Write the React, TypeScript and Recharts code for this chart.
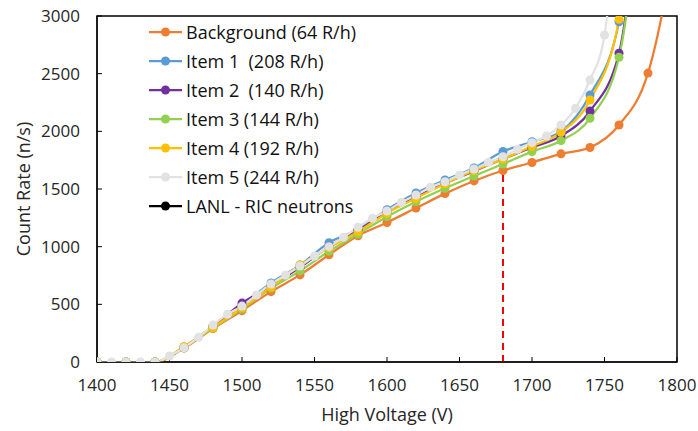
import React from 'react';
import { LineChart, Line, XAxis, YAxis, Legend, ReferenceLine, ReferenceArea } from 'recharts';

// Voltages (V) for each run
const voltsBackground = [1400, 1420, 1440, 1460, 1480, 1500, 1520, 1540, 1560, 1580, 1600, 1620, 1640, 1660, 1680, 1700, 1720, 1740, 1760, 1780, 1800];
const voltsItems = [1400, 1420, 1440, 1460, 1480, 1500, 1520, 1540, 1560, 1580, 1600, 1620, 1640, 1660, 1680, 1700, 1720, 1740, 1760, 1780];
const voltsItem5 = [1400, 1410, 1420, 1430, 1440, 1450, 1460, 1470, 1480, 1490, 1500, 1510, 1520, 1530, 1540, 1550, 1560, 1570, 1580, 1590, 1600, 1610, 1620, 1630, 1640, 1650, 1660, 1670, 1680, 1690, 1700, 1710, 1720, 1730, 1740, 1750, 1760];

// Count rates (n/s)
const background = [0, 0, 0, 120, 290, 445, 610, 755, 930, 1095, 1210, 1335, 1460, 1570, 1660, 1730, 1805, 1860, 2055, 2505, 3700];
const item1 = [0, 0, 0, 125, 310, 490, 685, 840, 1035, 1150, 1320, 1465, 1578, 1682, 1825, 1910, 2000, 2315, 2950, 5200];
const item2 = [0, 0, 0, 130, 310, 511, 660, 820, 1000, 1140, 1300, 1430, 1550, 1655, 1760, 1860, 1960, 2176, 2677, 5000];
const item3 = [0, 0, 0, 125, 295, 460, 640, 790, 960, 1110, 1260, 1390, 1506, 1613, 1717, 1824, 1919, 2113, 2642, 4800];
const item4 = [0, 0, 0, 133, 300, 470, 650, 841, 990, 1130, 1290, 1420, 1545, 1660, 1760, 1870, 1991, 2272, 2971, 5400];
const item5 = [0, 0, 0, 0, 0, 52, 124, 214, 321, 413, 485, 581, 676, 754, 832, 919, 1000, 1081, 1168, 1246, 1309, 1385, 1448, 1515, 1563, 1621, 1673, 1731, 1780, 1844, 1902, 1960, 2055, 2200, 2445, 2835, 4100];
const lanl: number[] = [];

const xTicks = [1400, 1450, 1500, 1550, 1600, 1650, 1700, 1750, 1800];
const yTicks = [0, 500, 1000, 1500, 2000, 2500, 3000];

// operating voltage marker
const markVolt = 1680;
const markRate = 1730;

const zip = (volts: number[], rates: number[]) => rates.map((c, i) => ({ v: volts[i], c }));

const SERIES = [
  { name: 'Background (64 R/h)', color: '#ED7D31', data: zip(voltsBackground, background) },
  { name: 'Item 1  (208 R/h)', color: '#5B9BD5', data: zip(voltsItems, item1) },
  { name: 'Item 2  (140 R/h)', color: '#7030A0', data: zip(voltsItems, item2) },
  { name: 'Item 3 (144 R/h)', color: '#92D050', data: zip(voltsItems, item3) },
  { name: 'Item 4 (192 R/h)', color: '#FFC000', data: zip(voltsItems, item4) },
  { name: 'Item 5 (244 R/h)', color: '#E2E2E2', data: zip(voltsItem5, item5) },
  { name: 'LANL - RIC neutrons', color: '#000000', data: zip([], lanl) },
];

const FONT = '"Open Sans", sans-serif';

const LegendBox = () => (
  <div style={{ fontFamily: FONT, fontSize: 18, color: '#111' }}>
    {SERIES.map((s) => (
      <div key={s.name} style={{ display: 'flex', alignItems: 'center', height: 29 }}>
        <svg width={34} height={12}>
          <line x1={0} y1={6} x2={33} y2={6} stroke={s.color} strokeWidth={2.25} />
          <circle cx={16.5} cy={6} r={4.5} fill={s.color} />
        </svg>
        <span style={{ marginLeft: 3, whiteSpace: 'pre' }}>{s.name}</span>
      </div>
    ))}
  </div>
);

const App: React.FC = () => {
  return (
    <div style={{ position: 'absolute', left: 0, top: 0, fontFamily: FONT }}>
      <LineChart width={698} height={431} margin={{ top: 16, right: 21, bottom: 0, left: 0 }}>
        <XAxis
          dataKey="v"
          type="number"
          domain={[1400, 1800]}
          ticks={xTicks}
          allowDataOverflow
          height={69}
          tickSize={-5}
          tickMargin={22}
          tick={{ fill: '#262626', fontSize: 17 }}
          stroke="#000"
          label={{ value: 'High Voltage (V)', position: 'insideBottom', offset: 10, fill: '#262626', fontSize: 18 }}
        />
        <YAxis
          dataKey="c"
          type="number"
          domain={[0, 3000]}
          ticks={yTicks}
          allowDataOverflow
          width={97}
          tickSize={-5}
          tickMargin={22}
          tick={{ fill: '#262626', fontSize: 17 }}
          stroke="#000"
          label={{ value: 'Count Rate (n/s)', angle: -90, position: 'insideLeft', offset: 24, fill: '#262626', fontSize: 18, style: { textAnchor: 'middle' } }}
        />
        <ReferenceArea x1={1400} x2={1800} y1={0} y2={3000} fill="none" stroke="#000" strokeWidth={1.5} />
        <ReferenceLine
          segment={[{ x: markVolt, y: 0 }, { x: markVolt, y: markRate }]}
          stroke="#FF0000"
          strokeWidth={2}
          strokeDasharray="7 5"
        />
        {SERIES.map((s) => (
          <Line
            key={s.name}
            data={s.data}
            dataKey="c"
            name={s.name}
            type="monotone"
            stroke={s.color}
            strokeWidth={2.25}
            dot={{ r: 4.5, fill: s.color, stroke: 'none' }}
            isAnimationActive={false}
          />
        ))}
        <Legend
          layout="vertical"
          align="center"
          verticalAlign="middle"
          content={<LegendBox />}
          wrapperStyle={{ left: 149, top: 17, width: 'auto', height: 'auto' }}
        />
      </LineChart>
    </div>
  );
};

export default App;
